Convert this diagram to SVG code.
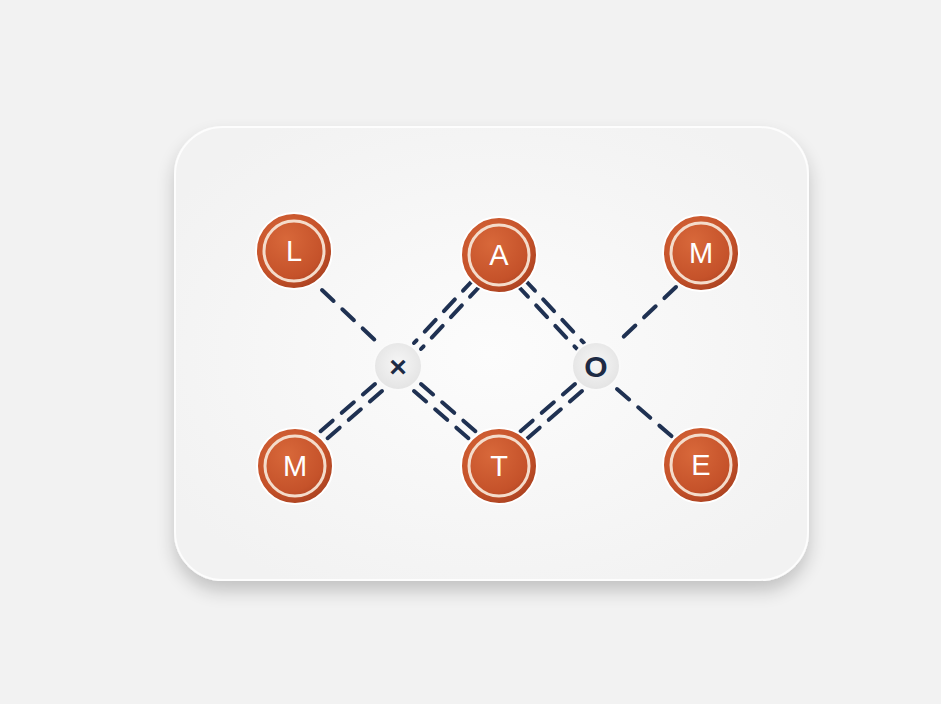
<svg xmlns="http://www.w3.org/2000/svg" width="941" height="704" viewBox="0 0 941 704">
<defs>
<filter id="sh" x="-20%" y="-20%" width="140%" height="150%">
<feGaussianBlur in="SourceAlpha" stdDeviation="9"/>
<feOffset dy="10"/>
<feComponentTransfer><feFuncA type="linear" slope="0.2"/></feComponentTransfer>
<feMerge><feMergeNode/><feMergeNode in="SourceGraphic"/></feMerge>
</filter>
<radialGradient id="card" cx="50%" cy="50%" r="60%">
<stop offset="0" stop-color="#fcfcfc"/><stop offset="1" stop-color="#f2f2f2"/>
</radialGradient>
<radialGradient id="org" cx="40%" cy="35%" r="70%">
<stop offset="0" stop-color="#d8683a"/><stop offset="0.7" stop-color="#c5522a"/><stop offset="1" stop-color="#a8401f"/>
</radialGradient>
<radialGradient id="hub" cx="50%" cy="45%" r="60%">
<stop offset="0" stop-color="#f6f6f6"/><stop offset="1" stop-color="#e2e2e2"/>
</radialGradient>
<style>
.o{fill:url(#org);stroke:#fff;stroke-width:2}
.ring{fill:none;stroke:#f4dccb;stroke-width:3}
.lt{fill:#fff;font-family:"Liberation Sans",Arial,sans-serif;font-size:29px;text-anchor:middle;dominant-baseline:central}
.h{fill:url(#hub);stroke:#fafafa;stroke-width:2}
.ht{fill:#1d2a44;font-family:"Liberation Sans",Arial,sans-serif;font-size:30px;font-weight:bold;text-anchor:middle;dominant-baseline:central}
.c line{stroke:#1f3152;stroke-width:4;stroke-linecap:round;stroke-dasharray:16 12}
</style>
</defs>
<rect width="941" height="704" fill="#f2f2f2"/>
<rect x="175" y="127" width="633" height="453" rx="48" fill="url(#card)" stroke="#fdfdfd" stroke-width="2" filter="url(#sh)"/>
<g id="connectors" class="c">
<line x1="322" y1="290" x2="378" y2="343"/>
<line x1="481" y1="285" x2="421" y2="349"/><line x1="474" y1="279" x2="414" y2="343"/>
<line x1="517" y1="285" x2="577" y2="349"/><line x1="524" y1="279" x2="584" y2="343"/>
<line x1="676" y1="287" x2="617" y2="343"/>
<line x1="382" y1="391" x2="322" y2="443"/><line x1="375" y1="384" x2="315" y2="436"/>
<line x1="414" y1="391" x2="474" y2="443"/><line x1="421" y1="384" x2="481" y2="436"/>
<line x1="582" y1="391" x2="522" y2="443"/><line x1="575" y1="384" x2="515" y2="436"/>
<line x1="617" y1="389" x2="676" y2="440"/>
</g>
<g id="node-L"><circle class="o" cx="294" cy="251" r="38"/><circle class="ring" cx="294" cy="251" r="30"/><text class="lt" x="294" y="251">L</text></g>
<g id="node-A"><circle class="o" cx="499" cy="255" r="38"/><circle class="ring" cx="499" cy="255" r="30"/><text class="lt" x="499" y="255">A</text></g>
<g id="node-M1"><circle class="o" cx="701" cy="253" r="38"/><circle class="ring" cx="701" cy="253" r="30"/><text class="lt" x="701" y="253">M</text></g>
<g id="node-M2"><circle class="o" cx="295" cy="466" r="38"/><circle class="ring" cx="295" cy="466" r="30"/><text class="lt" x="295" y="466">M</text></g>
<g id="node-T"><circle class="o" cx="499" cy="466" r="38"/><circle class="ring" cx="499" cy="466" r="30"/><text class="lt" x="499" y="466">T</text></g>
<g id="node-E"><circle class="o" cx="701" cy="465" r="38"/><circle class="ring" cx="701" cy="465" r="30"/><text class="lt" x="701" y="465">E</text></g>
<g id="hub-x"><circle class="h" cx="398" cy="366" r="24"/><text class="ht" x="398" y="366">×</text></g>
<g id="hub-o"><circle class="h" cx="596" cy="366" r="24"/><text class="ht" x="596" y="366">O</text></g>
</svg>
